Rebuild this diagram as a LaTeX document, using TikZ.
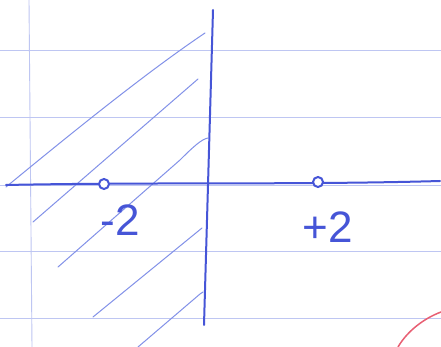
\documentclass[tikz,border=0pt]{standalone}
\usepackage{fontspec}
\setmainfont{Liberation Sans}
\definecolor{pen}{RGB}{70,85,215}
\definecolor{hatch}{RGB}{130,145,232}
\definecolor{ruleblue}{RGB}{190,198,242}
\definecolor{redpen}{RGB}{232,95,115}
\begin{document}
\begin{tikzpicture}[x=1pt,y=-1pt,
  ruleline/.style={draw=ruleblue, line width=0.9pt},
  penline/.style={draw=pen, line width=2pt, line cap=round},
  hatchline/.style={draw=hatch, line width=1pt, line cap=round},
  dot/.style={circle, draw=pen, line width=2pt, minimum size=10pt, inner sep=0pt, fill=white},
  lab/.style={text=pen, font=\fontsize{44}{44}\selectfont, inner sep=0pt}]
\fill[white] (0,0) rectangle (441,347);
\useasboundingbox (0,0) rectangle (441,347);
% ruled paper
\foreach \y in {50,117,185,251,318} \draw[ruleline] (0,\y) -- (441,\y);
\draw[ruleline] (29,0) -- (32,347);
% hatching
\draw[hatchline] (6,187) .. controls (80,126) and (150,70) .. (205,33);
\draw[hatchline] (33,222) -- (198,79);
\draw[hatchline] (58,267) -- (180,160) .. controls (194,146) and (202,139) .. (208,138);
\draw[hatchline] (93,317) -- (202,228);
\draw[hatchline] (138,347) -- (200,294) -- (203,292);
% axes
\coordinate (L) at (6,185);
\coordinate (R) at (440,181);
\coordinate (T) at (213,10);
\coordinate (B) at (204,325);
\draw[penline] (L) .. controls (150,182) and (300,185) .. (R);
\draw[penline] (T) -- (B);
% points
\node[dot] (m2) at (104,184) {};
\node[dot] (p2) at (318,182) {};
% labels
\node[lab] (lm) at (120,220) {-2};
\node[lab] (lp) at (328,227) {+2};
% red arc
\draw[draw=redpen, line width=1.5pt] (398,347) .. controls (408,330) and (425,318) .. (441,312);
\end{tikzpicture}
\end{document}
